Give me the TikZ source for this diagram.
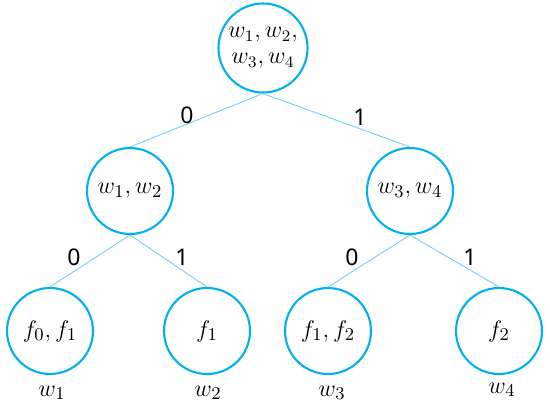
\documentclass[tikz,border=0pt]{standalone}
\usepackage{amsmath,amssymb}
\usepackage{fontspec}
\newfontfamily\digitfont{Noto Sans}
\usepackage{tikz}
\usepackage{xcolor}
\definecolor{ringblue}{RGB}{0, 176, 240}
\definecolor{edgeblue}{RGB}{120, 205, 245}

\begin{document}
\begin{tikzpicture}[x=0.5pt, y=0.5pt,
    ring/.style={circle, draw=ringblue, line width=1.05pt, minimum size=43pt, inner sep=0pt, align=center, font=\fontsize{13}{14}\selectfont},
    branch/.style={draw=edgeblue, line width=0.45pt},
    bit/.style={font=\digitfont\fontsize{11.5}{12}\selectfont, inner sep=0pt},
    leafw/.style={font=\fontsize{13}{14}\selectfont, inner sep=0pt}]
    \useasboundingbox (0, 0) rectangle (550, 414);
    \node[ring, minimum size=44.5pt, font=\fontsize{11.5}{13}\selectfont] (root) at (263, 366) {$w_1, w_2,$\\[0pt]$w_3, w_4$};
    \node[ring] (left) at (130, 223) {$w_1, w_2$};
    \node[ring] (right) at (410, 223) {$w_3, w_4$};
    \node[ring] (leafa) at (50, 83) {$f_0, f_1$};
    \node[ring] (leafb) at (207, 83) {$f_1$};
    \node[ring] (leafc) at (328, 83) {$f_1, f_2$};
    \node[ring] (leafd) at (499, 83) {$f_2$};
    \draw[branch] (root.south) -- (left.north);
    \draw[branch] (root.south) -- (right.north);
    \draw[branch] (left.south) -- (leafa.north);
    \draw[branch] (left.south) -- (leafb.north);
    \draw[branch] (right.south) -- (leafc.north);
    \draw[branch] (right.south) -- (leafd.north);
    \node[bit] (b0) at (187, 299) {0};
    \node[bit] (b1) at (360, 297) {1};
    \node[bit] (b00) at (74, 157) {0};
    \node[bit] (b01) at (182, 157) {1};
    \node[bit] (b10) at (352, 157) {0};
    \node[bit] (b11) at (470, 157) {1};
    \node[leafw] (wa) at (52, 21) {$w_1$};
    \node[leafw] (wb) at (208, 21) {$w_2$};
    \node[leafw] (wc) at (332, 21) {$w_3$};
    \node[leafw] (wd) at (502, 24) {$w_4$};
  \end{tikzpicture}
\end{document}
